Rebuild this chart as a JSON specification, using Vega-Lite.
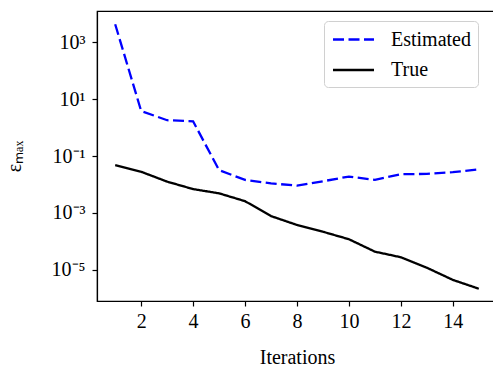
{
  "$schema": "https://vega.github.io/schema/vega-lite/v6.json",
  "width": 400,
  "height": 290,
  "autosize": {"type": "none"},
  "padding": {"left": 97, "top": 11, "right": 0, "bottom": 66},
  "background": "white",
  "config": {
    "font": "Liberation Serif",
    "view": {"stroke": "black", "strokeWidth": 1.2},
    "axis": {
      "labelFont": "Liberation Serif",
      "titleFont": "Liberation Serif",
      "labelFontSize": 20,
      "titleFontSize": 20,
      "labelColor": "black",
      "titleColor": "black",
      "domainColor": "black",
      "domainWidth": 1.2,
      "tickColor": "black",
      "tickWidth": 1.2,
      "tickSize": 5,
      "grid": false,
      "titleFontWeight": "normal"
    }
  },
  "data": {
    "values": [
      {"it": 1, "series": "Estimated", "v": 4200},
      {"it": 2, "series": "Estimated", "v": 3.8},
      {"it": 3, "series": "Estimated", "v": 1.8},
      {"it": 4, "series": "Estimated", "v": 1.65},
      {"it": 5, "series": "Estimated", "v": 0.032},
      {"it": 6, "series": "Estimated", "v": 0.0145},
      {"it": 7, "series": "Estimated", "v": 0.011},
      {"it": 8, "series": "Estimated", "v": 0.0091},
      {"it": 9, "series": "Estimated", "v": 0.013},
      {"it": 10, "series": "Estimated", "v": 0.019},
      {"it": 11, "series": "Estimated", "v": 0.0145},
      {"it": 12, "series": "Estimated", "v": 0.023},
      {"it": 13, "series": "Estimated", "v": 0.0235},
      {"it": 14, "series": "Estimated", "v": 0.027},
      {"it": 15, "series": "Estimated", "v": 0.034},
      {"it": 1, "series": "True", "v": 0.048},
      {"it": 2, "series": "True", "v": 0.028},
      {"it": 3, "series": "True", "v": 0.0126},
      {"it": 4, "series": "True", "v": 0.0069},
      {"it": 5, "series": "True", "v": 0.0049},
      {"it": 6, "series": "True", "v": 0.0026},
      {"it": 7, "series": "True", "v": 0.00078},
      {"it": 8, "series": "True", "v": 0.00038},
      {"it": 9, "series": "True", "v": 0.00022},
      {"it": 10, "series": "True", "v": 0.00012},
      {"it": 11, "series": "True", "v": 0.000044},
      {"it": 12, "series": "True", "v": 0.000028},
      {"it": 13, "series": "True", "v": 0.000012},
      {"it": 14, "series": "True", "v": 0.0000045},
      {"it": 15, "series": "True", "v": 0.0000022}
    ]
  },
  "mark": {"type": "line", "strokeWidth": 2.3},
  "encoding": {
    "x": {
      "field": "it",
      "type": "quantitative",
      "scale": {"domain": [0.3, 15.7], "nice": false, "zero": false},
      "axis": {"values": [2, 4, 6, 8, 10, 12, 14], "title": "Iterations", "titlePadding": 16, "labelPadding": 5}
    },
    "y": {
      "field": "v",
      "type": "quantitative",
      "scale": {"type": "log", "domain": [8.17e-7, 12240], "nice": false},
      "axis": {
        "values": [1000, 10, 0.1, 0.001, 0.00001],
        "labelExpr": "datum.value >= 999 ? '10³' : datum.value >= 9 ? '10¹' : datum.value >= 0.09 ? '10⁻¹' : datum.value >= 0.0009 ? '10⁻³' : '10⁻⁵'",
        "title": "εₘₐₓ",
        "titlePadding": 27,
        "labelPadding": 7
      }
    },
    "color": {
      "field": "series",
      "type": "nominal",
      "scale": {"domain": ["Estimated", "True"], "range": ["blue", "black"]},
      "legend": {
        "title": null,
        "orient": "none",
        "legendX": 227,
        "legendY": 10,
        "symbolType": "M-2,0H2",
        "symbolSize": 420,
        "symbolStrokeWidth": 2.3,
        "symbolOffset": 11,
        "labelFont": "Liberation Serif",
        "labelFontSize": 20,
        "labelColor": "black",
        "fillColor": "white",
        "strokeColor": "#d0d0d0",
        "cornerRadius": 4,
        "padding": 7,
        "rowPadding": 8.5,
        "labelOffset": 26
      }
    },
    "strokeDash": {
      "field": "series",
      "type": "nominal",
      "scale": {"domain": ["Estimated", "True"], "range": [[11, 4.5], [1, 0]]},
      "legend": null
    }
  }
}
